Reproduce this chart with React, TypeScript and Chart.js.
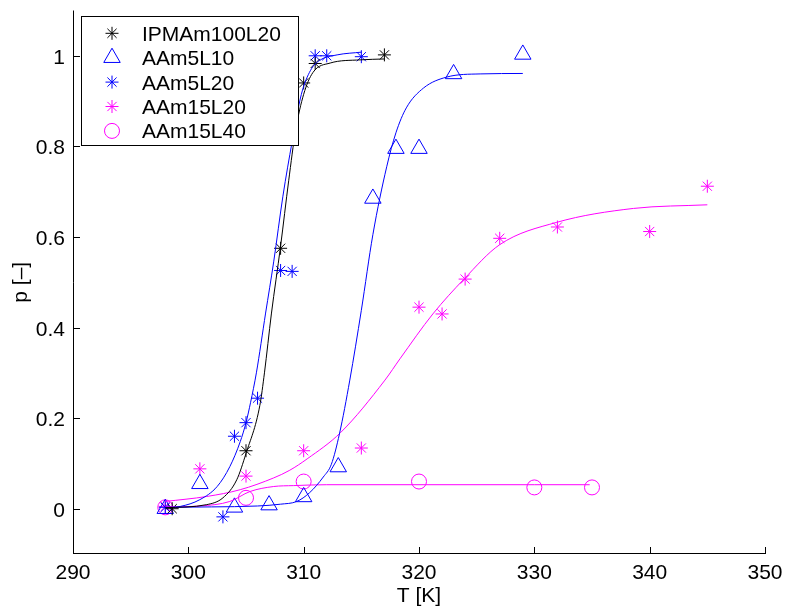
import { useEffect, useRef } from "react";
import { Chart, registerables } from "chart.js";

Chart.register(...registerables);

// Axis ticks
const xTicks = [290, 300, 310, 320, 330, 340, 350];
const yTicks = [0, 0.2, 0.4, 0.6, 0.8, 1];

const seriesNames = ["IPMAm100L20", "AAm5L10", "AAm5L20", "AAm15L20", "AAm15L40"];

// Measured conversion p versus temperature T [K]
const tIPMAm100L20 = [298.6, 305, 308, 310, 311, 317];
const pIPMAm100L20 = [0.0, 0.128, 0.575, 0.94, 0.983, 1.002];

const tAAm5L10 = [298, 301, 304, 307, 310, 313, 316, 318, 320, 323, 329];
const pAAm5L10 = [0.0, 0.055, 0.003, 0.008, 0.026, 0.092, 0.685, 0.795, 0.795, 0.96, 1.003];

const tAAm5L20 = [298, 303, 304, 305, 306, 308, 309, 311, 312, 315];
const pAAm5L20 = [0.003, -0.018, 0.16, 0.19, 0.244, 0.526, 0.524, 1.0, 1.0, 0.998];

const tAAm15L20 = [298, 301, 305, 310, 315, 320, 322, 324, 327, 332, 340, 345];
const pAAm15L20 = [0.005, 0.088, 0.072, 0.128, 0.134, 0.445, 0.43, 0.507, 0.597, 0.622, 0.612, 0.712];

const tAAm15L40 = [298, 305, 310, 320, 330, 335];
const pAAm15L40 = [0.003, 0.024, 0.06, 0.06, 0.047, 0.047];

// Fitted curves
const fitTIPMAm100L20 = [298, 301.6, 303, 304.2, 305, 306.2, 306.6, 307.2, 308, 308.7, 309.3, 310, 310.8, 312.3, 314.9, 317];
const fitPIPMAm100L20 = [0.002, 0.009, 0.024, 0.064, 0.122, 0.228, 0.3, 0.43, 0.58, 0.724, 0.835, 0.915, 0.963, 0.984, 0.991, 0.993];

const fitTAAm5L10 = [298, 302, 306, 308, 309.4, 310.5, 311.7, 312.4, 313.1, 314, 315, 316, 317.2, 318, 318.9, 320.4, 322.4, 325.3, 329];
const fitPAAm5L10 = [0.003, 0.004, 0.006, 0.01, 0.016, 0.035, 0.07, 0.098, 0.165, 0.284, 0.438, 0.605, 0.755, 0.83, 0.885, 0.929, 0.953, 0.96, 0.961];

const fitTAAm5L20 = [298, 299.3, 301, 302.5, 303.6, 304.5, 305, 305.4, 305.9, 306.7, 307.4, 308.2, 309, 309.8, 310.6, 311.4, 312.9, 315];
const fitPAAm5L20 = [0.002, 0.005, 0.02, 0.049, 0.093, 0.148, 0.19, 0.235, 0.3, 0.432, 0.545, 0.69, 0.81, 0.915, 0.968, 0.99, 1.002, 1.008];

const fitTAAm15L20 = [298, 301.6, 304.5, 307.4, 308.8, 310.3, 313.2, 317.05, 318.35, 321.2, 323.9, 327, 331.9, 338.6, 345];
const fitPAAm15L20 = [0.016, 0.027, 0.042, 0.068, 0.085, 0.11, 0.168, 0.284, 0.331, 0.43, 0.507, 0.583, 0.632, 0.663, 0.671];

const fitTAAm15L40 = [298, 301, 303.6, 305.35, 307.4, 309.1, 312, 320, 330, 334.8];
const fitPAAm15L40 = [0.004, 0.006, 0.016, 0.038, 0.049, 0.051, 0.053, 0.053, 0.053, 0.053];

const BLACK = "#000000";
const BLUE = "#0000ff";
const MAGENTA = "#ff00ff";
const FONT = "'Liberation Sans', Arial, Helvetica, sans-serif";

type Marker = "star" | "triangle" | "circle";
const markerStyles: { color: string; style: Marker; radius: number }[] = [
  { color: BLACK, style: "star", radius: 6.5 },
  { color: BLUE, style: "triangle", radius: 9.5 },
  { color: BLUE, style: "star", radius: 6.5 },
  { color: MAGENTA, style: "star", radius: 6.5 },
  { color: MAGENTA, style: "circle", radius: 7.5 },
];

const zip = (xs: number[], ys: number[]) => xs.map((x, i) => ({ x, y: ys[i] }));

const measured = [
  zip(tIPMAm100L20, pIPMAm100L20),
  zip(tAAm5L10, pAAm5L10),
  zip(tAAm5L20, pAAm5L20),
  zip(tAAm15L20, pAAm15L20),
  zip(tAAm15L40, pAAm15L40),
];

const fits = [
  zip(fitTIPMAm100L20, fitPIPMAm100L20),
  zip(fitTAAm5L10, fitPAAm5L10),
  zip(fitTAAm5L20, fitPAAm5L20),
  zip(fitTAAm15L20, fitPAAm15L20),
  zip(fitTAAm15L40, fitPAAm15L40),
];

const fmt = (v: number) => String(parseFloat(v.toFixed(1)));

// Axes in the style of a box-off plot: left/bottom lines, inward ticks, labels, titles and legend
const axesPlugin = {
  id: "boxOffAxes",
  afterDraw(chart: any) {
    const { ctx, chartArea: a } = chart;
    const xs = chart.scales.x;
    const ys = chart.scales.y;
    ctx.save();
    ctx.strokeStyle = BLACK;
    ctx.lineWidth = 1;
    ctx.beginPath();
    ctx.moveTo(a.left + 0.5, a.top);
    ctx.lineTo(a.left + 0.5, a.bottom);
    ctx.moveTo(a.left, a.bottom - 0.5);
    ctx.lineTo(a.right + 1, a.bottom - 0.5);
    for (const v of xTicks) {
      const px = Math.round(xs.getPixelForValue(v)) + 0.5;
      ctx.moveTo(px, a.bottom);
      ctx.lineTo(px, a.bottom - 7);
    }
    for (const v of yTicks) {
      const py = Math.round(ys.getPixelForValue(v)) + 0.5;
      ctx.moveTo(a.left, py);
      ctx.lineTo(a.left + 7, py);
    }
    ctx.stroke();

    ctx.fillStyle = BLACK;
    ctx.font = `21px ${FONT}`;
    ctx.textBaseline = "alphabetic";
    ctx.textAlign = "center";
    for (const v of xTicks) {
      ctx.fillText(String(v), xs.getPixelForValue(v), a.bottom + 25);
    }
    ctx.textAlign = "right";
    for (const v of yTicks) {
      ctx.fillText(fmt(v), a.left - 8, ys.getPixelForValue(v) + 8);
    }

    // axis titles
    ctx.textAlign = "center";
    ctx.fillText("T [K]", (a.left + a.right) / 2, 602);
    ctx.save();
    ctx.translate(27, (a.top + a.bottom) / 2);
    ctx.rotate(-Math.PI / 2);
    ctx.fillText("p [–]", 0, 0);
    ctx.restore();

    // legend
    const lx = 81, ly = 17, lw = 217, lh = 129;
    ctx.fillStyle = "#ffffff";
    ctx.fillRect(lx, ly, lw, lh);
    ctx.strokeStyle = BLACK;
    ctx.strokeRect(lx + 0.5, ly - 0.5, lw, lh);
    seriesNames.forEach((name, i) => {
      const cy = 33.3 + i * 24.4;
      const m = markerStyles[i];
      ctx.lineWidth = 1;
      ctx.strokeStyle = m.color;
      ctx.beginPath();
      if (m.style === "star") {
        const r = m.radius;
        const d = r * Math.SQRT1_2;
        ctx.moveTo(112 - r, cy); ctx.lineTo(112 + r, cy);
        ctx.moveTo(112, cy - r); ctx.lineTo(112, cy + r);
        ctx.moveTo(112 - d, cy - d); ctx.lineTo(112 + d, cy + d);
        ctx.moveTo(112 - d, cy + d); ctx.lineTo(112 + d, cy - d);
      } else if (m.style === "triangle") {
        const r = m.radius;
        ctx.moveTo(112, cy - r);
        ctx.lineTo(112 + 0.866 * r, cy + 0.5 * r);
        ctx.lineTo(112 - 0.866 * r, cy + 0.5 * r);
        ctx.closePath();
      } else {
        ctx.arc(112, cy, m.radius, 0, Math.PI * 2);
      }
      ctx.stroke();
      ctx.fillStyle = BLACK;
      ctx.textAlign = "left";
      ctx.font = `21px ${FONT}`;
      ctx.fillText(name, 142, cy + 7.5);
    });
    ctx.restore();
  },
};

export default function App() {
  const canvasRef = useRef<HTMLCanvasElement | null>(null);

  useEffect(() => {
    const canvas = canvasRef.current;
    if (!canvas) return;

    const markerSets = measured.map((data, i) => ({
      label: seriesNames[i],
      data,
      showLine: false,
      pointStyle: markerStyles[i].style,
      pointRadius: markerStyles[i].radius,
      pointBorderWidth: 1,
      pointBorderColor: markerStyles[i].color,
      pointBackgroundColor: "rgba(0,0,0,0)",
      borderColor: markerStyles[i].color,
    }));

    const fitSets = fits.map((data, i) => ({
      label: seriesNames[i] + " fit",
      data,
      showLine: true,
      pointRadius: 0,
      borderWidth: 1,
      borderColor: markerStyles[i].color,
      backgroundColor: markerStyles[i].color,
      fill: false,
      cubicInterpolationMode: "monotone" as const,
    }));

    const chart = new Chart(canvas, {
      type: "scatter",
      data: { datasets: [...fitSets, ...markerSets] as any },
      options: {
        responsive: false,
        animation: false,
        events: [],
        layout: { padding: { left: 73, top: 10, right: 20, bottom: 54 } },
        plugins: { legend: { display: false }, tooltip: { enabled: false } },
        scales: {
          x: { type: "linear", min: 290, max: 350, display: false },
          y: { type: "linear", min: -0.1, max: 1.1, display: false },
        },
      },
      plugins: [axesPlugin],
    });

    return () => chart.destroy();
  }, []);

  return (
    <div style={{ position: "absolute", left: 0, top: 0, width: 785, height: 608, background: "#fff" }}>
      <canvas ref={canvasRef} width={785} height={608} style={{ width: 785, height: 608, display: "block" }} />
    </div>
  );
}
